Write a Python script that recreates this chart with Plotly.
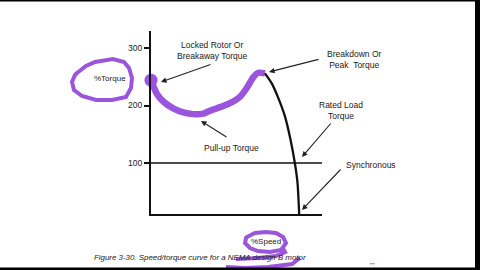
import plotly.graph_objects as go

# ---- data ----
speed_rise = [0, 3.8, 8.3, 15.0, 21.8, 28.5, 35.3, 40.9, 47.7, 53.3, 60.0, 64.5, 69.0, 72.4, 76.9]
torque_rise = [244, 221, 207, 195, 188, 185, 186, 192, 198, 204, 215, 230, 249, 257, 256]
speed_fall = [76.9, 81.4, 85.6, 90.4, 94.2, 97.1, 98.9, 100.0]
torque_fall = [256, 239, 215, 181, 140, 99.5, 65, 11.3]
ytick_vals = [100, 200, 300]
ytick_text = ["100", "200", "300"]
rated_load = 100

W, H = 480, 270
ML, MR, MT, MB = 151, 158, 31, 56
PW, PH = W - ML - MR, H - MT - MB
PURPLE = "#9a55dc"
FONT = "Liberation Sans"


def P(x, y):
    # figure pixel -> paper fraction (paper = plot area in plotly)
    return (x - ML) / PW, (H - MB - y) / PH


fig = go.Figure()
fig.add_trace(go.Scatter(x=speed_rise, y=torque_rise, mode="lines",
                         line=dict(color=PURPLE, width=6.5, shape="spline", smoothing=0.5),
                         cliponaxis=False, hoverinfo="skip"))
fig.add_trace(go.Scatter(x=speed_rise[:1], y=torque_rise[:1], mode="markers",
                         marker=dict(color=PURPLE, size=13), cliponaxis=False, hoverinfo="skip"))
fig.add_trace(go.Scatter(x=speed_fall, y=torque_fall, mode="lines",
                         line=dict(color="#111", width=2.3, shape="spline", smoothing=0.6),
                         cliponaxis=False, hoverinfo="skip"))

shapes = []
shapes.append(dict(type="line", xref="x", yref="y", x0=0, x1=115.4, y0=rated_load, y1=rated_load,
                   line=dict(color="#111", width=1.6)))


def path_from(points, closed=True):
    s = ""
    for i, (x, y) in enumerate(points):
        px, py = P(x, y)
        s += ("M" if i == 0 else "L") + f"{px:.5f},{py:.5f} "
    if closed:
        s += "Z"
    return s


torque_loop = [(77, 73), (86, 66), (95, 62), (113, 59), (124, 62), (129, 68), (132, 78), (131, 88),
               (126, 97), (112, 100), (96, 100), (82, 96), (74, 90), (72, 82), (75, 75), (78, 72)]
speed_loop = [(247, 237), (255, 233), (266, 232), (276, 233), (283, 237), (286, 243), (281, 250),
              (270, 252), (258, 251), (250, 248), (245, 243), (246, 238)]
speed_tail1 = [(282, 247), (285, 252), (276, 256), (258, 258), (236, 259)]
speed_tail2 = [(226, 267), (245, 268), (268, 267), (292, 264), (300, 258)]
for pts, closed in [(torque_loop, True), (speed_loop, True), (speed_tail1, False), (speed_tail2, False)]:
    shapes.append(dict(type="path", xref="paper", yref="paper", path=path_from(pts, closed),
                       line=dict(color=PURPLE, width=4)))

for x0, y0, x1, y1 in [(0, 0, 480, 1.5), (475, 0, 480, 270), (0, 267.5, 480, 270)]:
    a, b = P(x0, y0)
    c, d = P(x1, y1)
    shapes.append(dict(type="rect", xref="paper", yref="paper", x0=a, x1=c, y0=d, y1=b,
                       fillcolor="#000", line=dict(width=0)))

ann = []


def text(x, y, t, size=8.5, italic=False):
    px, py = P(x, y)
    ann.append(dict(xref="paper", yref="paper", x=px, y=py, text=t, showarrow=False,
                    xanchor="center", yanchor="middle",
                    font=dict(family=FONT, size=size, color="#1a1a1a",
                              style="italic" if italic else "normal")))


def arrow(head, tail):
    px, py = P(*head)
    ann.append(dict(xref="paper", yref="paper", x=px, y=py, text="", showarrow=True,
                    ax=tail[0] - head[0], ay=tail[1] - head[1], axref="pixel", ayref="pixel",
                    arrowhead=2, arrowsize=1, arrowwidth=1.1, arrowcolor="#222", standoff=0))


text(212, 50.5, "Locked Rotor Or<br>Breakaway Torque")
text(354, 60, "Breakdown Or<br>Peak  Torque")
text(341, 110, "Rated Load<br>Torque")
text(231, 148, "Pull-up Torque")
text(371, 165, "Synchronous")
text(110, 78, "%Torque", size=8)
text(266, 241.5, "%Speed", size=8)
text(200, 257, "Figure 3-30. Speed/torque curve for a NEMA design B motor", size=7.9, italic=True)
text(372, 262.5, "↔", size=7)

arrow((161, 82), (212, 64))
arrow((269, 72), (320, 59))
arrow((302, 157), (332, 122))
arrow((201, 121), (228, 138))
arrow((302, 210), (342, 168))

fig.update_layout(
    width=W, height=H, margin=dict(l=ML, r=MR, t=MT, b=MB),
    paper_bgcolor="white", plot_bgcolor="white", showlegend=False,
    shapes=shapes, annotations=ann,
    xaxis=dict(range=[0, 115.4], showgrid=False, zeroline=False, showticklabels=False,
               ticks="", showline=True, linecolor="#111", linewidth=2),
    yaxis=dict(range=[11.3, 329.6], showgrid=False, zeroline=False, tickvals=ytick_vals,
               ticktext=ytick_text, ticks="outside", ticklen=5, tickwidth=1.5, tickcolor="#111",
               tickfont=dict(family=FONT, size=8.5, color="#222"), showline=True,
               linecolor="#111", linewidth=2),
)

fig.write_html("out.html")
